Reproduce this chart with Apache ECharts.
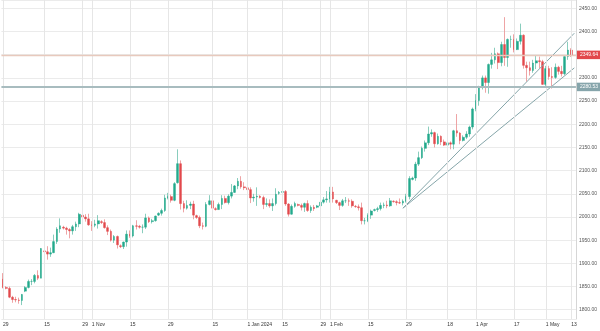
<!DOCTYPE html>
<html>
<head>
<meta charset="utf-8">
<script src="https://cdn.jsdelivr.net/npm/echarts@6/dist/echarts.min.js"></script>
<style>
  html, body { margin: 0; padding: 0; background: #ffffff; }
  #chart { width: 600px; height: 331px; }
</style>
</head>
<body>
<div id="chart"></div>
<script>
// Gold spot, daily sessions: [date, open, close, low, high]
const sep2023 = [
  ['2023-09-29', 1866, 1848, 1846, 1879]
];
const oct2023 = [
  ['2023-10-01', 1848, 1846, 1844, 1851], ['2023-10-02', 1846, 1827, 1825, 1850],
  ['2023-10-03', 1827, 1822, 1815, 1830], ['2023-10-04', 1822, 1821, 1816, 1828],
  ['2023-10-05', 1821, 1820, 1813, 1826], ['2023-10-06', 1820, 1833, 1810, 1834],
  ['2023-10-08', 1840, 1848, 1838, 1851], ['2023-10-09', 1848, 1861, 1846, 1865],
  ['2023-10-10', 1861, 1861, 1853, 1866], ['2023-10-11', 1861, 1874, 1857, 1877],
  ['2023-10-12', 1874, 1868, 1864, 1885], ['2023-10-13', 1868, 1932, 1868, 1933],
  ['2023-10-15', 1927, 1925, 1921, 1931], ['2023-10-16', 1925, 1920, 1908, 1937],
  ['2023-10-17', 1920, 1923, 1914, 1934], ['2023-10-18', 1923, 1947, 1922, 1962],
  ['2023-10-19', 1947, 1974, 1942, 1978], ['2023-10-20', 1974, 1981, 1966, 1997],
  ['2023-10-22', 1978, 1976, 1973, 1981], ['2023-10-23', 1976, 1973, 1962, 1979],
  ['2023-10-24', 1973, 1970, 1954, 1976], ['2023-10-25', 1970, 1979, 1962, 1983],
  ['2023-10-26', 1979, 1985, 1970, 1990], ['2023-10-27', 1985, 2006, 1978, 2009],
  ['2023-10-29', 2004, 2000, 1997, 2010], ['2023-10-30', 2000, 1996, 1990, 2006],
  ['2023-10-31', 1996, 1983, 1981, 2007]
];
const nov2023 = [
  ['2023-11-01', 1983, 1982, 1970, 1991], ['2023-11-02', 1982, 1985, 1978, 1994],
  ['2023-11-03', 1985, 1992, 1975, 2004], ['2023-11-05', 1990, 1988, 1985, 1993],
  ['2023-11-06', 1988, 1977, 1975, 1995], ['2023-11-07', 1977, 1969, 1961, 1982],
  ['2023-11-08', 1969, 1950, 1947, 1973], ['2023-11-09', 1950, 1958, 1944, 1961],
  ['2023-11-10', 1958, 1940, 1932, 1960], ['2023-11-12', 1938, 1936, 1933, 1941],
  ['2023-11-13', 1936, 1946, 1931, 1947], ['2023-11-14', 1946, 1963, 1936, 1971],
  ['2023-11-15', 1963, 1959, 1955, 1971], ['2023-11-16', 1959, 1981, 1956, 1983],
  ['2023-11-17', 1981, 1980, 1973, 1993], ['2023-11-19', 1980, 1978, 1975, 1983],
  ['2023-11-20', 1978, 1978, 1965, 1984], ['2023-11-21', 1978, 1998, 1974, 2007],
  ['2023-11-22', 1998, 1990, 1987, 2001], ['2023-11-23', 1990, 1992, 1986, 1996],
  ['2023-11-24', 1992, 2002, 1990, 2003], ['2023-11-26', 2004, 2008, 2002, 2010],
  ['2023-11-27', 2008, 2014, 2003, 2018], ['2023-11-28', 2014, 2041, 2011, 2048],
  ['2023-11-29', 2041, 2044, 2038, 2052], ['2023-11-30', 2044, 2036, 2031, 2048]
];
const dec2023 = [
  ['2023-12-01', 2036, 2072, 2034, 2075], ['2023-12-03', 2074, 2115, 2072, 2146],
  ['2023-12-04', 2115, 2029, 2016, 2122], ['2023-12-05', 2029, 2019, 2010, 2035],
  ['2023-12-06', 2019, 2025, 2016, 2036], ['2023-12-07', 2025, 2028, 2017, 2033],
  ['2023-12-08', 2028, 2004, 1995, 2035], ['2023-12-10', 2003, 1999, 1996, 2005],
  ['2023-12-11', 1999, 1981, 1976, 2003], ['2023-12-12', 1981, 1980, 1973, 1988],
  ['2023-12-13', 1980, 2027, 1978, 2032], ['2023-12-14', 2027, 2035, 2025, 2047],
  ['2023-12-15', 2035, 2019, 2015, 2047], ['2023-12-17', 2018, 2016, 2014, 2021],
  ['2023-12-18', 2016, 2027, 2016, 2031], ['2023-12-19', 2027, 2040, 2017, 2047],
  ['2023-12-20', 2040, 2031, 2029, 2046], ['2023-12-21', 2031, 2045, 2027, 2049],
  ['2023-12-22', 2045, 2053, 2040, 2071], ['2023-12-26', 2053, 2067, 2052, 2069],
  ['2023-12-27', 2067, 2077, 2060, 2084], ['2023-12-28', 2077, 2065, 2061, 2088],
  ['2023-12-29', 2065, 2063, 2058, 2075]
];
const jan2024 = [
  ['2024-01-02', 2063, 2059, 2056, 2078], ['2024-01-03', 2059, 2041, 2030, 2064],
  ['2024-01-04', 2041, 2043, 2033, 2050], ['2024-01-05', 2043, 2045, 2024, 2064],
  ['2024-01-07', 2045, 2042, 2040, 2047], ['2024-01-08', 2042, 2027, 2017, 2046],
  ['2024-01-09', 2027, 2029, 2022, 2040], ['2024-01-10', 2029, 2024, 2020, 2038],
  ['2024-01-11', 2024, 2029, 2013, 2040], ['2024-01-12', 2029, 2049, 2025, 2062],
  ['2024-01-14', 2051, 2053, 2048, 2056], ['2024-01-15', 2053, 2055, 2050, 2060],
  ['2024-01-16', 2055, 2028, 2024, 2058], ['2024-01-17', 2028, 2006, 2001, 2030],
  ['2024-01-18', 2006, 2023, 2005, 2027], ['2024-01-19', 2023, 2029, 2020, 2033],
  ['2024-01-21', 2027, 2025, 2023, 2029], ['2024-01-22', 2025, 2021, 2014, 2029],
  ['2024-01-23', 2021, 2029, 2011, 2031], ['2024-01-24', 2029, 2014, 2011, 2036],
  ['2024-01-25', 2014, 2021, 2009, 2025], ['2024-01-26', 2021, 2018, 2013, 2026],
  ['2024-01-28', 2021, 2024, 2019, 2026], ['2024-01-29', 2024, 2032, 2017, 2036],
  ['2024-01-30', 2032, 2037, 2029, 2043], ['2024-01-31', 2037, 2039, 2031, 2056]
];
const feb2024 = [
  ['2024-02-01', 2039, 2054, 2031, 2065], ['2024-02-02', 2054, 2039, 2031, 2065],
  ['2024-02-04', 2036, 2031, 2028, 2037], ['2024-02-05', 2031, 2025, 2015, 2033],
  ['2024-02-06', 2025, 2035, 2022, 2039], ['2024-02-07', 2035, 2035, 2030, 2043],
  ['2024-02-08', 2035, 2034, 2024, 2040], ['2024-02-09', 2034, 2024, 2020, 2038],
  ['2024-02-11', 2023, 2022, 2020, 2026], ['2024-02-12', 2022, 2020, 2014, 2027],
  ['2024-02-13', 2020, 1992, 1984, 2031], ['2024-02-14', 1992, 1992, 1984, 1998],
  ['2024-02-15', 1992, 2004, 1989, 2008], ['2024-02-16', 2004, 2013, 1996, 2016],
  ['2024-02-18', 2014, 2016, 2012, 2018], ['2024-02-19', 2016, 2018, 2011, 2022],
  ['2024-02-20', 2018, 2025, 2014, 2031], ['2024-02-21', 2025, 2026, 2019, 2031],
  ['2024-02-22', 2026, 2024, 2019, 2035], ['2024-02-23', 2024, 2035, 2022, 2041],
  ['2024-02-25', 2034, 2033, 2031, 2036], ['2024-02-26', 2033, 2031, 2025, 2036],
  ['2024-02-27', 2031, 2030, 2028, 2040], ['2024-02-28', 2030, 2034, 2025, 2038],
  ['2024-02-29', 2034, 2044, 2031, 2050]
];
const mar2024 = [
  ['2024-03-01', 2044, 2083, 2038, 2088], ['2024-03-03', 2081, 2084, 2079, 2087],
  ['2024-03-04', 2084, 2114, 2078, 2119], ['2024-03-05', 2114, 2128, 2110, 2141],
  ['2024-03-06', 2128, 2148, 2125, 2152], ['2024-03-07', 2148, 2160, 2141, 2165],
  ['2024-03-08', 2160, 2179, 2155, 2195], ['2024-03-11', 2179, 2182, 2173, 2189],
  ['2024-03-12', 2182, 2158, 2150, 2184], ['2024-03-13', 2158, 2174, 2156, 2180],
  ['2024-03-14', 2174, 2162, 2155, 2176], ['2024-03-15', 2162, 2155, 2153, 2167],
  ['2024-03-18', 2155, 2160, 2150, 2164], ['2024-03-19', 2160, 2157, 2146, 2163],
  ['2024-03-20', 2157, 2186, 2146, 2188], ['2024-03-21', 2186, 2181, 2173, 2222],
  ['2024-03-22', 2181, 2165, 2157, 2183], ['2024-03-25', 2165, 2172, 2163, 2176],
  ['2024-03-26', 2172, 2179, 2168, 2185], ['2024-03-27', 2179, 2194, 2173, 2197],
  ['2024-03-28', 2194, 2233, 2189, 2236]
];
const apr2024 = [
  ['2024-04-01', 2233, 2251, 2228, 2265], ['2024-04-02', 2251, 2280, 2240, 2283],
  ['2024-04-03', 2280, 2300, 2275, 2305], ['2024-04-04', 2300, 2290, 2268, 2305],
  ['2024-04-05', 2290, 2329, 2266, 2331], ['2024-04-08', 2329, 2339, 2320, 2354],
  ['2024-04-09', 2339, 2352, 2331, 2365], ['2024-04-10', 2352, 2333, 2319, 2355],
  ['2024-04-11', 2333, 2372, 2325, 2378], ['2024-04-12', 2372, 2344, 2326, 2431],
  ['2024-04-15', 2344, 2383, 2324, 2385], ['2024-04-16', 2383, 2383, 2365, 2391],
  ['2024-04-17', 2383, 2361, 2355, 2394], ['2024-04-18', 2361, 2379, 2360, 2385],
  ['2024-04-19', 2379, 2392, 2372, 2417], ['2024-04-22', 2392, 2327, 2320, 2394],
  ['2024-04-23', 2327, 2322, 2292, 2335], ['2024-04-24', 2322, 2316, 2305, 2335],
  ['2024-04-25', 2316, 2332, 2311, 2339], ['2024-04-26', 2332, 2337, 2319, 2349],
  ['2024-04-29', 2337, 2335, 2321, 2346], ['2024-04-30', 2335, 2286, 2285, 2339]
];
const may2024 = [
  ['2024-05-01', 2286, 2320, 2281, 2326], ['2024-05-02', 2320, 2303, 2296, 2326],
  ['2024-05-03', 2303, 2301, 2277, 2323], ['2024-05-06', 2301, 2323, 2298, 2331],
  ['2024-05-07', 2323, 2314, 2307, 2326], ['2024-05-08', 2314, 2309, 2303, 2326],
  ['2024-05-09', 2309, 2346, 2306, 2348], ['2024-05-10', 2346, 2360, 2339, 2378],
  ['2024-05-13', 2360, 2349.64, 2345, 2364]
];

// Date axis labels (session date -> text)
const tickLabels = [
  ['2023-09-29', '29'], ['2023-10-15', '15'], ['2023-10-29', '29'], ['2023-11-01', '1 Nov'],
  ['2023-11-15', '15'], ['2023-11-29', '29'], ['2023-12-15', '15'], ['2024-01-02', '1 Jan 2024'],
  ['2024-01-15', '15'], ['2024-01-29', '29'], ['2024-02-01', '1 Feb'], ['2024-02-15', '15'],
  ['2024-02-29', '29'], ['2024-03-18', '18'], ['2024-04-01', '1 Apr'], ['2024-04-17', '17'],
  ['2024-05-01', '1 May'], ['2024-05-13', '13']
];

// Horizontal price levels: last price and support
const lastPrice = 2349.64;
const supportLevel = 2280.53;

// Rising trend lines: anchor session/price and price one session past the last bar
const trendAnchor = ['2024-02-28', 2019];
const trendEnds = [2396.4, 2321.6];

const rows = [].concat(sep2023, oct2023, nov2023, dec2023, jan2024, feb2024, mar2024, apr2024, may2024);
const dates = rows.map(r => r[0]);
const categories = dates.concat(['']); // one empty slot after the last session
const bodies = rows.map(r => [r[1], r[2], Math.min(r[1], r[2]), Math.max(r[1], r[2])]);
const wicks = rows.map(r => [r[1], r[2], r[3], r[4]]);
const labelMap = Object.fromEntries(tickLabels);

const anchorIdx = dates.indexOf(trendAnchor[0]);
const endIdx = dates.length;

const UP = '#22a98c', DOWN = '#e2484c';
const FONT = 'Liberation Sans, Arial, sans-serif';

const chart = echarts.init(document.getElementById('chart'), null, { renderer: 'canvas' });
chart.setOption({
  animation: false,
  backgroundColor: '#ffffff',
  grid: { left: 0, right: 24, top: 0, bottom: 12, containLabel: false },
  xAxis: {
    type: 'category',
    data: categories,
    boundaryGap: true,
    axisLine: { show: false },
    axisTick: { show: false },
    splitLine: { show: false },
    axisLabel: {
      interval: (i, v) => labelMap[v] !== undefined,
      formatter: v => labelMap[v] || '',
      align: 'left',
      margin: 3,
      fontSize: 5,
      color: '#333',
      fontFamily: FONT
    }
  },
  yAxis: {
    type: 'value',
    position: 'right',
    min: 1780,
    max: 2468,
    splitNumber: 14,
    scale: true,
    axisLine: { show: true, lineStyle: { color: '#d6d6d6', width: 1 } },
    axisTick: { show: false },
    splitLine: { show: true, lineStyle: { color: '#ebebeb', width: 1 } },
    axisLabel: {
      formatter: v => (Math.abs(v % 50) < 1e-6 ? v.toFixed(2) : ''),
      align: 'left',
      margin: 3,
      fontSize: 5,
      color: '#555',
      fontFamily: FONT
    }
  },
  series: [
    {
      // vertical date grid lines
      type: 'line',
      data: [],
      z: 1,
      silent: true,
      markLine: {
        silent: true,
        symbol: 'none',
        label: { show: false },
        lineStyle: { color: '#e6e6e6', width: 1, type: 'solid' },
        data: tickLabels.map(t => ({ xAxis: t[0] }))
      }
    },
    {
      type: 'candlestick',
      name: 'wick',
      data: wicks,
      z: 2,
      barWidth: 1,
      silent: true,
      itemStyle: {
        color: '#7cc7b5', color0: '#ec9a9b',
        borderColor: '#7cc7b5', borderColor0: '#ec9a9b',
        borderWidth: 0.9
      }
    },
    {
      type: 'candlestick',
      name: 'XAUUSD',
      data: bodies,
      z: 3,
      barWidth: 2.2,
      silent: true,
      itemStyle: {
        color: UP, color0: DOWN,
        borderColor: UP, borderColor0: DOWN,
        borderWidth: 0.4
      },
      markLine: {
        silent: true,
        symbol: 'none',
        precision: 2,
        data: [
          {
            yAxis: lastPrice,
            lineStyle: { color: '#e8c9bd', width: 1.4, type: 'solid' },
            label: {
              show: true, position: 'end', distance: 1,
              formatter: lastPrice.toFixed(2),
              color: '#ffffff', backgroundColor: '#e2484c',
              padding: [2, 3, 1.5, 3], fontSize: 5, fontFamily: FONT
            }
          },
          {
            yAxis: supportLevel,
            lineStyle: { color: '#a8bcbf', width: 1.8, type: 'solid' },
            label: {
              show: true, position: 'end', distance: 1,
              formatter: supportLevel.toFixed(2),
              color: '#ffffff', backgroundColor: '#86a5ab',
              padding: [2, 3, 1.5, 3], fontSize: 5, fontFamily: FONT
            }
          }
        ]
      }
    },
    {
      type: 'line',
      name: 'trend upper',
      data: [[anchorIdx, trendAnchor[1]], [endIdx, trendEnds[0]]],
      symbol: 'none',
      z: 4,
      silent: true,
      lineStyle: { color: '#86a6aa', width: 1 }
    },
    {
      type: 'line',
      name: 'trend lower',
      data: [[anchorIdx, trendAnchor[1]], [endIdx, trendEnds[1]]],
      symbol: 'none',
      z: 4,
      silent: true,
      lineStyle: { color: '#86a6aa', width: 1 }
    }
  ]
});
</script>
</body>
</html>
